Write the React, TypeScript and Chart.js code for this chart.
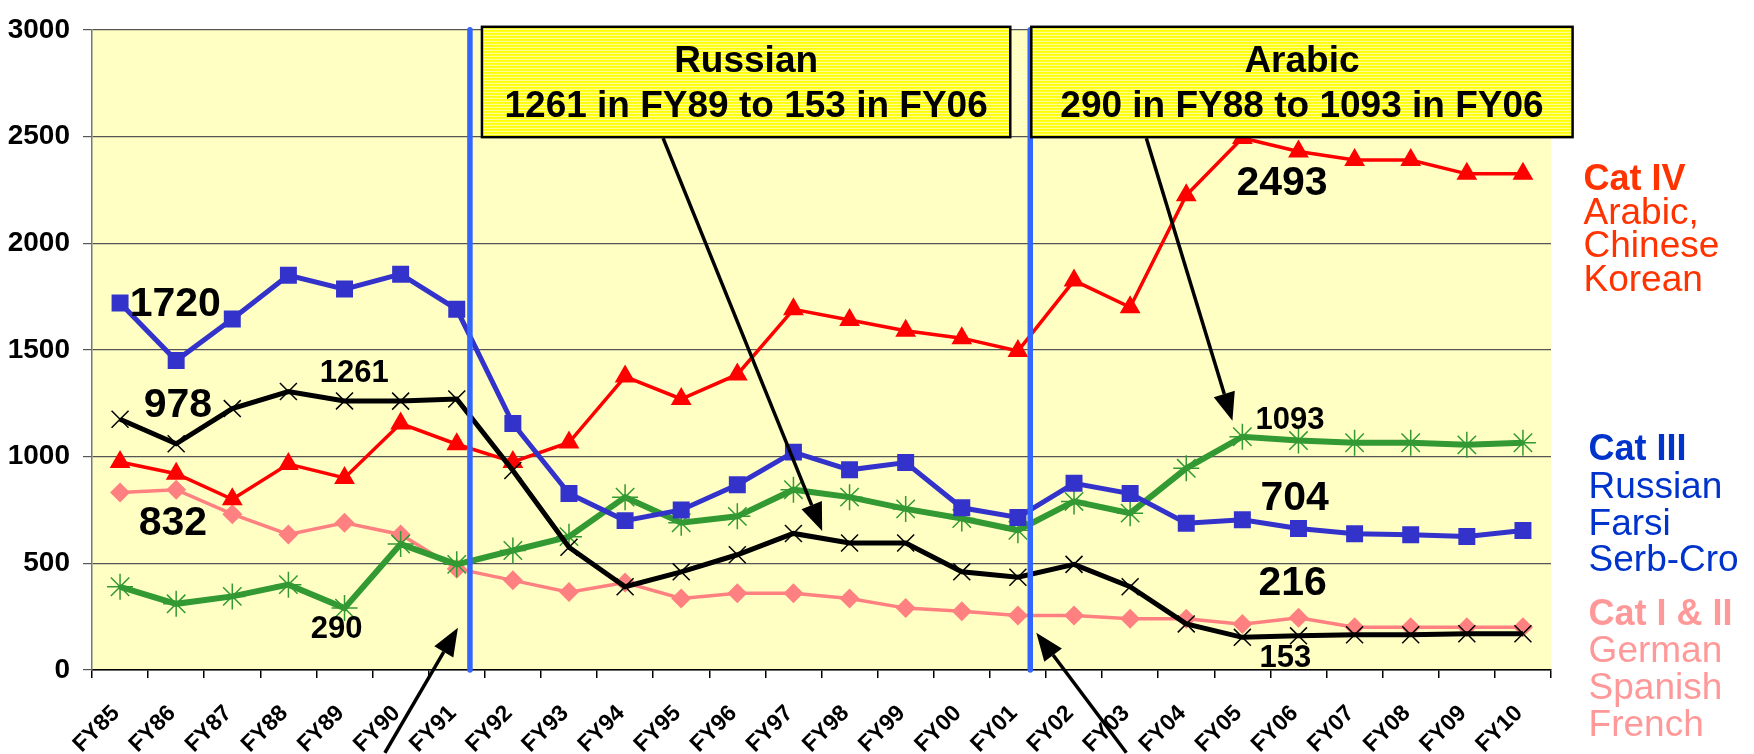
import React, { useEffect, useRef } from 'react';
import { Chart, registerables } from 'chart.js';

Chart.register(...registerables);

const FONT = "'Liberation Sans', Arial, Helvetica, sans-serif";

const categories = [
  'FY85', 'FY86', 'FY87', 'FY88', 'FY89', 'FY90', 'FY91', 'FY92', 'FY93', 'FY94',
  'FY95', 'FY96', 'FY97', 'FY98', 'FY99', 'FY00', 'FY01', 'FY02', 'FY03', 'FY04',
  'FY05', 'FY06', 'FY07', 'FY08', 'FY09', 'FY10',
];

const catIII = [1720, 1450, 1645, 1850, 1785, 1855, 1690, 1155, 827, 700, 750, 868, 1021, 938, 972, 760, 715, 875, 827, 688, 704, 663, 638, 634, 626, 654];
const russian = [1175, 1060, 1225, 1305, 1261, 1260, 1270, 935, 575, 390, 460, 540, 640, 595, 595, 460, 435, 495, 390, 216, 153, 160, 165, 165, 170, 170];
const arabic = [390, 310, 345, 400, 290, 590, 495, 560, 625, 810, 690, 720, 845, 810, 755, 710, 655, 790, 735, 945, 1093, 1075, 1065, 1065, 1055, 1065];
const catIV = [975, 920, 800, 965, 900, 1155, 1058, 975, 1066, 1375, 1270, 1385, 1690, 1640, 1590, 1555, 1495, 1825, 1700, 2225, 2493, 2430, 2390, 2390, 2325, 2325];
const catI_II = [832, 845, 730, 635, 690, 635, 475, 420, 365, 410, 335, 360, 360, 335, 290, 275, 255, 255, 240, 240, 215, 245, 200, 200, 200, 200];

const yTicks = [0, 500, 1000, 1500, 2000, 2500, 3000];

// Positions for annotations expressed in (fractional category index, value)
const dividerIdx = [6.235, 16.22];

const boxes = [
  { i0: 6.449, i1: 15.864, vTop: 3014, vBot: 2497, lines: ['Russian', '1261 in FY89 to 153 in FY06'] },
  { i0: 16.239, i1: 25.885, vTop: 3014, vBot: 2497, lines: ['Arabic', '290 in FY88 to 1093 in FY06'] },
];
const boxLineValues = [2800, 2590];

const arrows = [
  { i0: 9.677, v0: 2492, i1: 12.512, v1: 651 },
  { i0: 18.289, v0: 2492, i1: 19.823, v1: 1168 },
  { i0: 4.719, v0: -388, i1: 6.021, v1: 198 },
  { i0: 17.933, v0: -388, i1: 16.328, v1: 175 },
];

const pointLabels = [
  { text: '1720', i: 0.172, v: 1661, size: 41 },
  { text: '978', i: 0.422, v: 1186, size: 41 },
  { text: '832', i: 0.333, v: 632, size: 41 },
  { text: '1261', i: 3.56, v: 1348, size: 31 },
  { text: '290', i: 3.4, v: 148, size: 31 },
  { text: '2493', i: 19.894, v: 2225, size: 41 },
  { text: '1093', i: 20.233, v: 1131, size: 31 },
  { text: '704', i: 20.322, v: 748, size: 41 },
  { text: '216', i: 20.286, v: 351, size: 41 },
  { text: '153', i: 20.304, v: 14, size: 31 },
];

const legendBlocks = [
  { i: 26.08, color: '#FF3300', title: 'Cat IV', lines: ['Arabic,', 'Chinese', 'Korean'], values: [2248, 2091, 1934, 1777] },
  { i: 26.17, color: '#0033CC', title: 'Cat III', lines: ['Russian', 'Farsi', 'Serb-Cro'], values: [983, 808, 632, 462] },
  { i: 26.17, color: '#FF9999', title: 'Cat I & II', lines: ['German', 'Spanish', 'French'], values: [212, 37, -134, -309] },
];

function drawArrow(ctx: CanvasRenderingContext2D, x1: number, y1: number, x2: number, y2: number) {
  const head = 28;
  const half = 11;
  const ang = Math.atan2(y2 - y1, x2 - x1);
  const bx = x2 - head * Math.cos(ang);
  const by = y2 - head * Math.sin(ang);
  ctx.beginPath();
  ctx.moveTo(x1, y1);
  ctx.lineTo(bx, by);
  ctx.stroke();
  ctx.beginPath();
  ctx.moveTo(x2, y2);
  ctx.lineTo(bx + half * Math.sin(ang), by - half * Math.cos(ang));
  ctx.lineTo(bx - half * Math.sin(ang), by + half * Math.cos(ang));
  ctx.closePath();
  ctx.fill();
}

const annotationPlugin = {
  id: 'annotations',
  beforeDraw(chart: any) {
    const { ctx, chartArea } = chart;
    ctx.save();
    ctx.fillStyle = '#FFFFC4';
    ctx.fillRect(chartArea.left, chartArea.top, chartArea.right - chartArea.left, chartArea.bottom - chartArea.top);
    ctx.restore();
  },
  afterDraw(chart: any) {
    const { ctx } = chart;
    const xs = chart.scales.x;
    const ys = chart.scales.y;
    const X = (i: number) => xs.getPixelForValue(i);
    const Y = (v: number) => ys.getPixelForValue(v);
    ctx.save();

    // Blue divider lines
    ctx.strokeStyle = '#3366FF';
    ctx.lineWidth = 5.5;
    ctx.lineCap = 'round';
    dividerIdx.forEach((i) => {
      ctx.beginPath();
      ctx.moveTo(X(i), Y(3000));
      ctx.lineTo(X(i), Y(0));
      ctx.stroke();
    });
    ctx.lineCap = 'butt';

    // Boxes
    boxes.forEach((b) => {
      const x0 = X(b.i0), x1 = X(b.i1), y0 = Y(b.vTop), y1 = Y(b.vBot);
      ctx.fillStyle = '#FFFF00';
      ctx.fillRect(x0, y0, x1 - x0, y1 - y0);
      ctx.fillStyle = '#FFFFB8';
      for (let y = y0 + 2; y < y1; y += 3) {
        ctx.fillRect(x0, y, x1 - x0, 1);
      }
      ctx.strokeStyle = '#000';
      ctx.lineWidth = 2.5;
      ctx.strokeRect(x0, y0, x1 - x0, y1 - y0);
      ctx.fillStyle = '#000';
      ctx.font = `bold 37px ${FONT}`;
      ctx.textAlign = 'center';
      ctx.textBaseline = 'alphabetic';
      b.lines.forEach((t, k) => {
        ctx.fillText(t, (x0 + x1) / 2, Y(boxLineValues[k]));
      });
    });

    // Arrows
    ctx.strokeStyle = '#000';
    ctx.fillStyle = '#000';
    ctx.lineWidth = 3.5;
    arrows.forEach((a) => drawArrow(ctx, X(a.i0), Y(a.v0), X(a.i1), Y(a.v1)));

    // Point labels
    ctx.fillStyle = '#000';
    ctx.textAlign = 'left';
    ctx.textBaseline = 'alphabetic';
    pointLabels.forEach((p) => {
      ctx.font = `bold ${p.size}px ${FONT}`;
      ctx.fillText(p.text, X(p.i), Y(p.v));
    });

    // Right-side legend text
    legendBlocks.forEach((blk) => {
      ctx.fillStyle = blk.color;
      ctx.font = `bold 36px ${FONT}`;
      ctx.fillText(blk.title, X(blk.i), Y(blk.values[0]));
      ctx.font = `37px ${FONT}`;
      blk.lines.forEach((t, k) => ctx.fillText(t, X(blk.i), Y(blk.values[k + 1])));
    });

    ctx.restore();
  },
};

export default function App() {
  const canvasRef = useRef<HTMLCanvasElement | null>(null);

  useEffect(() => {
    const canvas = canvasRef.current;
    if (!canvas) return;
    const chart = new Chart(canvas, {
      type: 'line',
      data: {
        labels: categories,
        datasets: [
          {
            label: 'Cat III',
            data: catIII,
            borderColor: '#3333CC',
            backgroundColor: '#3333CC',
            borderWidth: 5,
            pointStyle: 'rect',
            pointRadius: 12,
            pointBorderWidth: 0,
            pointBackgroundColor: '#3333CC',
          },
          {
            label: 'Russian',
            data: russian,
            borderColor: '#000000',
            backgroundColor: '#000000',
            borderWidth: 5,
            pointStyle: 'crossRot',
            pointRadius: 12,
            pointBorderWidth: 1.5,
            pointBorderColor: '#000000',
          },
          {
            label: 'Arabic',
            data: arabic,
            borderColor: '#339933',
            backgroundColor: '#339933',
            borderWidth: 6,
            pointStyle: 'star',
            pointRadius: 13,
            pointBorderWidth: 1.5,
            pointBorderColor: '#339933',
          },
          {
            label: 'Cat IV',
            data: catIV,
            borderColor: '#FF0000',
            backgroundColor: '#FF0000',
            borderWidth: 3.5,
            pointStyle: 'triangle',
            pointRadius: 12,
            pointBorderWidth: 0,
            pointBackgroundColor: '#FF0000',
          },
          {
            label: 'Cat I & II',
            data: catI_II,
            borderColor: '#FF8080',
            backgroundColor: '#FF8080',
            borderWidth: 3.5,
            pointStyle: 'rectRot',
            pointRadius: 10,
            pointBorderWidth: 0,
            pointBackgroundColor: '#FF8080',
          },
        ],
      },
      options: {
        responsive: false,
        animation: false,
        devicePixelRatio: 1,
        layout: { padding: { top: 20, right: 203, left: 0, bottom: 0 } },
        plugins: { legend: { display: false }, tooltip: { enabled: false } },
        elements: { line: { tension: 0 } },
        scales: {
          x: {
            type: 'category',
            offset: true,
            grid: { offset: true, drawOnChartArea: false, drawTicks: true, tickLength: 8, color: '#000', lineWidth: 1.5 },
            border: { color: '#000', width: 1.5 },
            ticks: {
              autoSkip: false,
              minRotation: 45,
              maxRotation: 45,
              padding: 22,
              labelOffset: -4,
              color: '#000',
              font: { family: FONT, size: 23, weight: 'bold' },
            },
            afterFit: (s: any) => { s.height = 84; },
          },
          y: {
            min: 0,
            max: 3000,
            afterBuildTicks: (s: any) => { s.ticks = yTicks.map((v) => ({ value: v })); },
            ticks: {
              padding: 13,
              color: '#000',
              font: { family: FONT, size: 28, weight: 'bold' },
              callback: (v: any) => String(v),
            },
            grid: { color: '#555', lineWidth: 1.2, tickLength: 9 },
            border: { color: '#777', width: 1.5 },
            afterFit: (s: any) => { s.width = 92; },
          },
        },
      },
      plugins: [annotationPlugin],
    } as any);
    return () => chart.destroy();
  }, []);

  return (
    <div style={{ position: 'fixed', left: 0, top: 0, width: 1754, height: 754, background: '#fff' }}>
      <canvas ref={canvasRef} width={1754} height={754} style={{ width: 1754, height: 754, display: 'block' }} />
    </div>
  );
}
